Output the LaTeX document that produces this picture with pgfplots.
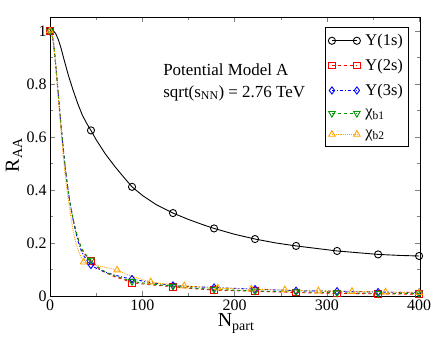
\documentclass[border=0pt]{standalone}
\usepackage{fontspec}
\setmainfont{Liberation Serif}
\usepackage{pgfplots}
\pgfplotsset{compat=1.18}
\usetikzlibrary{calc}

\definecolor{ygreen}{RGB}{0,150,0}
\definecolor{yorange}{RGB}{255,165,0}

\begin{document}
\begin{tikzpicture}
\begin{axis}[
  scale only axis,
  width=370bp, height=279bp,
  xmin=0, xmax=401,
  ymin=0, ymax=1.053,
  xtick={0,100,...,400},
  ytick={0,0.2,0.4,0.6,0.8,1},
  minor x tick num=1,
  minor y tick num=1,
  major tick length=5bp,
  minor tick length=3bp,
  tick align=inside,
  ticklabel style={font=\fontsize{16}{18}\selectfont},
  /pgf/number format/assume math mode=true,
  xlabel={N\textsubscript{part}},
  ylabel={R\textsubscript{AA}},
  label style={font=\fontsize{20}{22}\selectfont},
  xlabel style={at={(axis description cs:0.503,-0.111)}, anchor=base},
  ylabel style={at={(axis description cs:-0.084,0.505)}, anchor=base},
  legend style={
    font=\fontsize{16.5}{18}\selectfont,
    at={(0.968,0.964)}, anchor=north east,
    draw=black, line width=0.6pt,
    row sep=8pt, inner xsep=3pt, inner ysep=5pt,
    cells={anchor=west},
    /tikz/every odd column/.append style={column sep=3pt},
  },
  legend image code/.code={
    \draw[mark repeat=1,#1] plot coordinates {(0cm,0cm) (0.88cm,0cm)};
  },
  every axis plot/.append style={line width=0.9pt},
]
% Y(1s)
\addplot[black, solid, forget plot] table {
0 1.0
3 1.0
6 0.992
9 0.968
12 0.935
15 0.895
20 0.832
25 0.777
30 0.727
35 0.683
40 0.650
44.4 0.625
50 0.590
60 0.536
70 0.490
80 0.448
88.9 0.412
100 0.380
115 0.345
133.3 0.313
150 0.289
165 0.270
177.8 0.255
200 0.233
222.2 0.215
245 0.200
266.7 0.189
290 0.179
311.1 0.170
335 0.163
355.6 0.157
380 0.153
400 0.151
};
\addplot[black, only marks, mark=o, mark size=3.6pt, forget plot] table {
0 1.0
44.4 0.625
88.9 0.412
133.3 0.313
177.8 0.255
222.2 0.215
266.7 0.189
311.1 0.170
355.6 0.157
400 0.151
};
% Y(2s)
\addplot[red, dashed, forget plot] table {
0 1.0
2 0.99
4 0.95
6 0.88
8 0.80
10 0.72
12 0.64
14 0.57
16 0.50
18 0.44
20 0.39
22 0.345
25 0.29
28 0.245
31 0.21
34 0.18
37 0.16
41 0.145
44.4 0.132
50 0.112
55 0.098
60 0.088
70 0.073
80 0.062
88.9 0.050
110 0.042
133.3 0.035
155 0.028
177.8 0.022
222.2 0.018
266.7 0.013
311.1 0.010
355.6 0.008
400 0.007
};
\addplot[red, only marks, mark=square, mark size=3.3pt, forget plot] table {
0 1.0
44.4 0.132
88.9 0.050
133.3 0.035
177.8 0.022
222.2 0.018
266.7 0.013
311.1 0.010
355.6 0.008
400 0.007
};
% Y(3s)
\addplot[blue, dash dot, forget plot] table {
0 1.0
2 0.99
4 0.95
6 0.88
8 0.80
10 0.72
12 0.64
14 0.57
16 0.50
18 0.44
20 0.39
22 0.345
25 0.29
28 0.24
31 0.20
34 0.17
37 0.15
41 0.13
44.4 0.117
50 0.105
60 0.090
70 0.079
80 0.070
88.9 0.064
110 0.050
133.3 0.040
155 0.035
177.8 0.032
222.2 0.026
266.7 0.020
311.1 0.018
355.6 0.015
400 0.013
};
\addplot[blue, only marks, mark=diamond, mark size=3.6pt, forget plot] table {
0 1.0
44.4 0.117
88.9 0.064
133.3 0.040
177.8 0.032
222.2 0.026
266.7 0.020
311.1 0.018
355.6 0.015
400 0.013
};
% chi_b1
\addplot[ygreen, dashed, forget plot] table {
0 1.0
2 0.99
4 0.95
6 0.88
8 0.80
10 0.72
12 0.64
14 0.57
16 0.50
18 0.44
20 0.39
22 0.345
25 0.29
28 0.245
31 0.21
34 0.182
37 0.163
41 0.148
44.4 0.136
50 0.116
55 0.102
60 0.091
70 0.076
80 0.065
88.9 0.055
110 0.045
133.3 0.037
155 0.030
177.8 0.025
222.2 0.019
266.7 0.016
311.1 0.012
355.6 0.010
400 0.009
};
\addplot[ygreen, only marks, mark=triangle, mark options={rotate=180}, mark size=3.8pt, forget plot] table {
0 1.0
44.4 0.136
88.9 0.055
133.3 0.037
177.8 0.025
222.2 0.019
266.7 0.016
311.1 0.012
355.6 0.010
400 0.009
};
% chi_b2
\addplot[yorange, densely dotted, forget plot] table {
0 1.0
2 0.99
4 0.95
6 0.88
8 0.79
10 0.70
12 0.62
14 0.54
16 0.47
18 0.41
20 0.36
23 0.29
26 0.23
29 0.19
32 0.16
36.4 0.128
45 0.121
55 0.112
65 0.104
72.7 0.098
85 0.079
100 0.062
109.1 0.053
125 0.045
145.5 0.038
181.8 0.030
218.2 0.026
254.5 0.023
290.9 0.019
327.3 0.017
363.6 0.015
400 0.013
};
\addplot[yorange, only marks, mark=triangle, mark size=3.8pt, forget plot] table {
0 1.0
36.4 0.128
72.7 0.098
109.1 0.053
145.5 0.038
181.8 0.030
218.2 0.026
254.5 0.023
290.9 0.019
327.3 0.017
363.6 0.015
400 0.013
};

\addlegendimage{black, solid, line width=0.9pt, mark=o, mark size=3.6pt}
\addlegendentry{Y(1s)}
\addlegendimage{red, dashed, line width=0.9pt, mark=square, mark size=3.3pt, mark options={solid}}
\addlegendentry{Y(2s)}
\addlegendimage{blue, dash dot, line width=0.9pt, mark=diamond, mark size=3.6pt, mark options={solid}}
\addlegendentry{Y(3s)}
\addlegendimage{ygreen, dashed, line width=0.9pt, mark=triangle, mark size=3.8pt, mark options={solid, rotate=180}}
\addlegendentry{χ\textsubscript{b1}}
\addlegendimage{yorange, densely dotted, line width=0.9pt, mark=triangle, mark size=3.8pt, mark options={solid}}
\addlegendentry{χ\textsubscript{b2}}

\node[anchor=base west, font=\fontsize{17}{19}\selectfont] at (axis cs:119,0.834) {Potential Model A};
\node[anchor=base west, font=\fontsize{17}{19}\selectfont] at (axis cs:119,0.751) {sqrt(s\textsubscript{NN}) = 2.76 TeV};

\coordinate (sw) at (rel axis cs:0,0);
\coordinate (ne) at (rel axis cs:1,1);
\end{axis}
\pgfresetboundingbox
\path ($(sw)+(-50bp,-41bp)$) rectangle ($(ne)+(16bp,17bp)$);
\end{tikzpicture}
\end{document}
